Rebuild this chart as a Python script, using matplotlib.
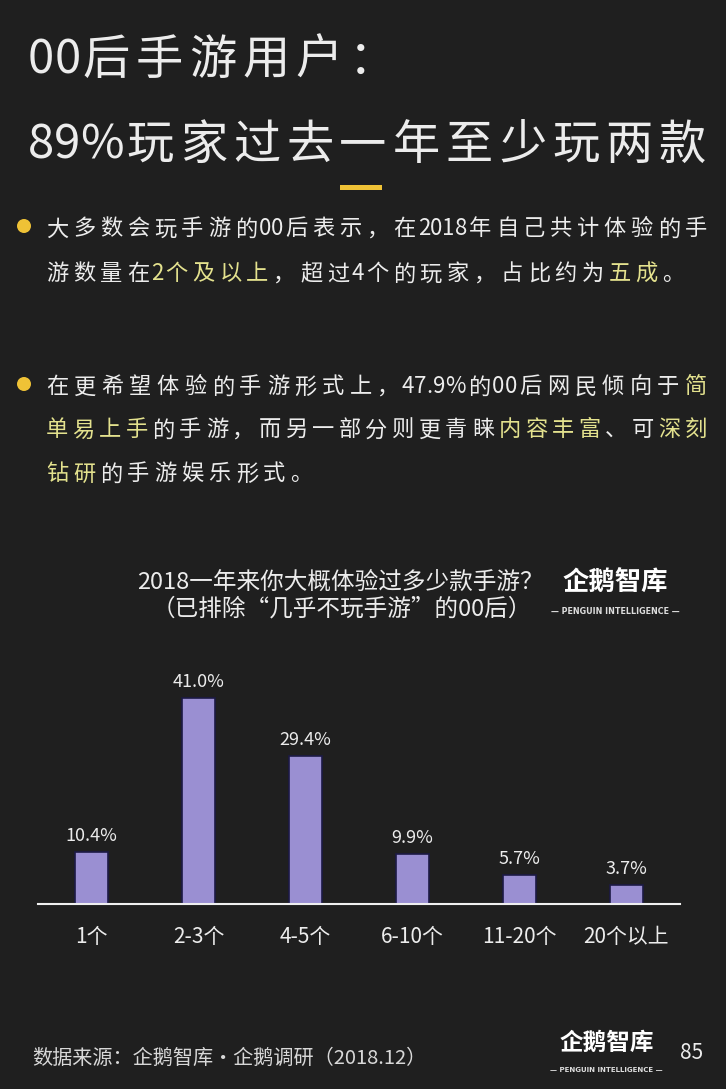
import matplotlib
matplotlib.use('Agg')
import matplotlib.pyplot as plt
from matplotlib.patches import Circle, Rectangle
from matplotlib.font_manager import FontProperties

plt.rcParams['font.family'] = ['Noto Sans CJK SC', 'DejaVu Sans']

# ---- data ----
categories = ['1个', '2-3个', '4-5个', '6-10个', '11-20个', '20个以上']
shares = [10.4, 41.0, 29.4, 9.9, 5.7, 3.7]

title_lines = ['00后手游用户：', '89%玩家过去一年至少玩两款']
chart_title = ['2018一年来你大概体验过多少款手游？', '（已排除“几乎不玩手游”的00后）']
source_note = '数据来源：企鹅智库·企鹅调研（2018.12）'
page_no = '85'
logo_text = '企鹅智库'
logo_sub = '— PENGUIN INTELLIGENCE —'

# text runs: (text, highlighted?)
bullet1 = [
    [('大多数会玩手游的00后表示，在2018年自己共计体验的手', False)],
    [('游数量在', False), ('2个及以上', True), ('，超过4个的玩家，占比约为', False),
     ('五成', True), ('。', False)],
]
bullet2 = [
    [('在更希望体验的手游形式上，47.9%的00后网民倾向于', False), ('简', True)],
    [('单易上手', True), ('的手游，而另一部分则更青睐', False), ('内容丰富', True),
     ('、可', False), ('深刻', True)],
    [('钻研', True), ('的手游娱乐形式。', False)],
]

# ---- style ----
W, H = 726, 1089
BG = '#1f1f1f'
WHITE = '#ececec'
HIGHLIGHT = '#e4e28e'
GOLD = '#efc236'
BAR = '#9a8fd2'

fig = plt.figure(figsize=(W / 100, H / 100), dpi=100, facecolor=BG)
renderer = fig.canvas.get_renderer()

# full-figure overlay in pixel coordinates (y down)
bg = fig.add_axes([0, 0, 1, 1])
bg.set_xlim(0, W)
bg.set_ylim(H, 0)
bg.axis('off')


def measure(s, size, weight='normal'):
    prop = FontProperties(family=['Noto Sans CJK SC', 'DejaVu Sans'], size=size, weight=weight)
    w, h, d = renderer.get_text_width_height_descent(s, prop, ismath=False)
    return w


def advance(s, size, weight='normal'):
    # pen advance of s, using sentinels to cancel glyph bearings
    if not s:
        return 0.0
    return measure('丨' + s + '丨', size, weight) - measure('丨丨', size, weight)


def layout_line(runs, size):
    chars = []
    for txt, hl in runs:
        for ch in txt:
            chars.append((ch, HIGHLIGHT if hl else WHITE))
    text = ''.join(c for c, _ in chars)
    offs = [advance(text[:k], size) for k in range(len(text) + 1)]
    gaps = []
    for k in range(len(text) - 1):
        a, b = text[k].isascii(), text[k + 1].isascii()
        gaps.append(0 if (a and b) else (0.4 if (a or b) else 1))
    return chars, offs, gaps


def fit_tracking(runs, size, x0, x1):
    chars, offs, gaps = layout_line(runs, size)
    return (x1 - x0 - offs[-1]) / max(sum(gaps), 1)


def draw_line(runs, size, x0, y_center, track, weight='normal'):
    chars, offs, gaps = layout_line(runs, size)
    base = y_center + 0.38 * size * 100 / 72
    extra = 0.0
    for k, (ch, col) in enumerate(chars):
        bg.text(x0 + offs[k] + extra, base, ch, fontsize=size, color=col,
                ha='left', va='baseline', weight=weight)
        if k < len(gaps):
            extra += track * gaps[k]


# ---- title ----
t_size = 34
t_track = fit_tracking([(title_lines[1], False)], t_size, 28, 706)
draw_line([(title_lines[0], False)], t_size, 28, 56, t_track)
draw_line([(title_lines[1], False)], t_size, 28, 141, t_track)
bg.add_patch(Rectangle((340, 185), 42, 5, color=GOLD, lw=0))

# ---- bullets ----
b_size = 16
x_text, x_right = 46, 707
tr1 = fit_tracking(bullet1[0], b_size, x_text, x_right)
draw_line(bullet1[0], b_size, x_text, 227, tr1)
draw_line(bullet1[1], b_size, x_text, 272, tr1)
bg.add_patch(Circle((24, 226), 7, color=GOLD, lw=0))

tr2a = fit_tracking(bullet2[0], b_size, x_text, x_right)
tr2b = fit_tracking(bullet2[1], b_size, x_text, x_right)
draw_line(bullet2[0], b_size, x_text, 385, tr2a)
draw_line(bullet2[1], b_size, x_text, 428, tr2b)
draw_line(bullet2[2], b_size, x_text, 472, (tr2a + tr2b) / 2)
bg.add_patch(Circle((24, 384), 7, color=GOLD, lw=0))

# ---- chart title + logo ----
bg.text(340, 582, chart_title[0], fontsize=17, color=WHITE, ha='center', va='center')
bg.text(342, 609, chart_title[1], fontsize=17, color=WHITE, ha='center', va='center')
bg.text(615, 583, logo_text, fontsize=19, color='white', weight='bold', ha='center', va='center')
bg.text(615, 611, logo_sub, fontsize=5.8, color='#dddddd', weight='bold', ha='center', va='center',
        family='DejaVu Sans')

# ---- bar chart ----
ax = fig.add_axes([38 / W, (H - 904) / H, 642 / W, 251 / H])
ax.set_facecolor('none')
x = range(len(categories))
bars = ax.bar(x, shares, width=0.31, color=BAR, edgecolor='#1c1a45', linewidth=1.2, zorder=2)
for xi, v in zip(x, shares):
    ax.annotate(f'{v:.1f}%', (xi, v), xytext=(0, 8), textcoords='offset points',
                ha='center', va='baseline', fontsize=13, color=WHITE)
ax.set_xlim(-0.5, len(categories) - 0.5)
ax.set_ylim(0, 50)
ax.set_xticks(list(x))
ax.set_xticklabels(categories, fontsize=15, color=WHITE)
ax.tick_params(axis='x', length=0, pad=16)
ax.set_yticks([])
for side in ['top', 'right', 'left']:
    ax.spines[side].set_visible(False)
ax.spines['bottom'].set_color('#f0f0f0')
ax.spines['bottom'].set_linewidth(1.5)

# ---- footer ----
bg.text(32, 1058, source_note, fontsize=14.5, color='#d8d8d8', ha='left', va='center')
bg.text(607, 1043, logo_text, fontsize=17, color='white', weight='bold', ha='center', va='center')
bg.text(606, 1070, logo_sub, fontsize=5, color='#dddddd', weight='bold', ha='center', va='center',
        family='DejaVu Sans')
bg.text(692, 1053, page_no, fontsize=15, color=WHITE, ha='center', va='center')

fig.savefig('out.png', dpi=100, facecolor=BG)
